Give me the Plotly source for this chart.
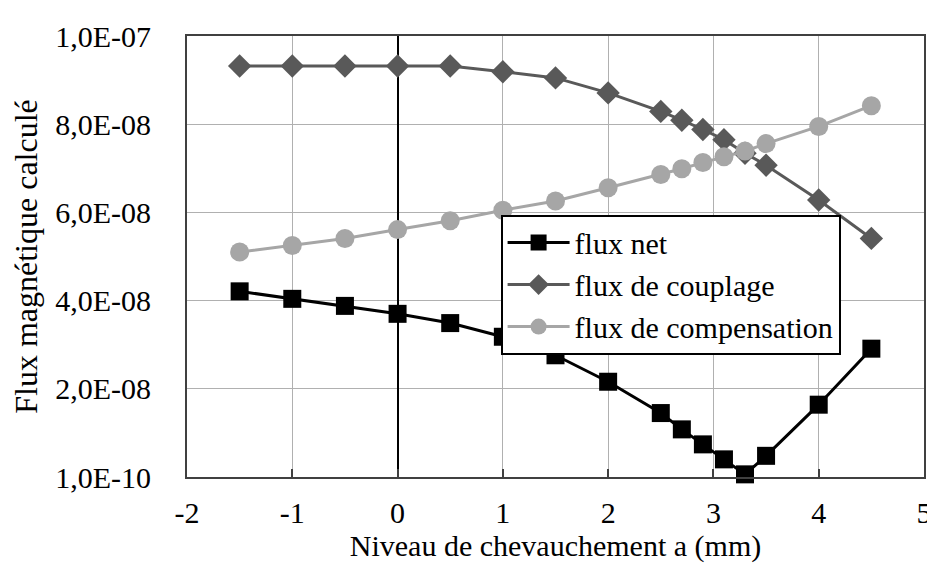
import plotly.graph_objects as go

# niveau de chevauchement a (mm)
niveau = [-1.5, -1, -0.5, 0, 0.5, 1, 1.5, 2, 2.5, 2.7, 2.9, 3.1, 3.3, 3.5, 4, 4.5]

flux_net = [4.22e-8, 4.05e-8, 3.89e-8, 3.71e-8, 3.50e-8, 3.19e-8, 2.77e-8, 2.17e-8,
            1.46e-8, 1.09e-8, 0.75e-8, 0.41e-8, 0.07e-8, 0.49e-8, 1.65e-8, 2.92e-8]
flux_couplage = [9.33e-8, 9.33e-8, 9.33e-8, 9.33e-8, 9.33e-8, 9.20e-8, 9.06e-8, 8.72e-8,
                 8.30e-8, 8.10e-8, 7.89e-8, 7.66e-8, 7.35e-8, 7.08e-8, 6.29e-8, 5.42e-8]
flux_compensation = [5.11e-8, 5.26e-8, 5.42e-8, 5.62e-8, 5.82e-8, 6.06e-8, 6.27e-8, 6.57e-8,
                     6.87e-8, 7.00e-8, 7.14e-8, 7.27e-8, 7.40e-8, 7.57e-8, 7.96e-8, 8.43e-8]

x_tick_vals = [-2, -1, 0, 1, 2, 3, 4, 5]
x_tick_text = ["-2", "-1", "0", "1", "2", "3", "4", "5"]
y_tick_vals = [1e-10, 2.01e-8, 4.01e-8, 6.01e-8, 8.01e-8, 1.001e-7]
y_tick_text = ["1,0E-10", "2,0E-08", "4,0E-08", "6,0E-08", "8,0E-08", "1,0E-07"]

FONT = "Liberation Serif, Times New Roman, serif"

fig = go.Figure()
fig.add_trace(go.Scatter(
    x=niveau, y=flux_net, name="flux net", mode="lines+markers",
    line=dict(color="#000000", width=3),
    marker=dict(symbol="square", size=18, color="#000000"),
    cliponaxis=False))
fig.add_trace(go.Scatter(
    x=niveau, y=flux_couplage, name="flux de couplage", mode="lines+markers",
    line=dict(color="#595959", width=3),
    marker=dict(symbol="diamond", size=18, color="#595959"),
    cliponaxis=False))
fig.add_trace(go.Scatter(
    x=niveau, y=flux_compensation, name="flux de compensation", mode="lines+markers",
    line=dict(color="#A6A6A6", width=3),
    marker=dict(symbol="circle", size=19, color="#A6A6A6"),
    cliponaxis=False))

fig.update_layout(
    width=935, height=568,
    margin=dict(l=179, r=11, t=27, b=99),
    paper_bgcolor="white", plot_bgcolor="white",
    font=dict(family=FONT, size=30, color="#000000"),
    showlegend=True,
    legend=dict(
        x=0.4255, y=0.595, xanchor="left", yanchor="top",
        bgcolor="white", bordercolor="#000000", borderwidth=2,
        font=dict(family=FONT, size=30), itemwidth=62,
        tracegroupgap=0),
)
fig.update_xaxes(
    range=[-2, 5], tickvals=x_tick_vals, ticktext=x_tick_text,
    showgrid=True, gridcolor="#B0B0B0", gridwidth=1.3,
    zeroline=True, zerolinecolor="#000000", zerolinewidth=1.5,
    showline=True, linecolor="#404040", linewidth=2, mirror=True,
    ticks="inside", ticklen=8, tickcolor="#404040", tickwidth=2,
    ticklabelstandoff=8,
    title=dict(text="Niveau de chevauchement a (mm)", font=dict(size=30), standoff=4),
)
fig.update_yaxes(
    range=[1e-10, 1.001e-7],
    tickvals=y_tick_vals, ticktext=y_tick_text,
    showgrid=True, gridcolor="#B0B0B0", gridwidth=1.3,
    zeroline=False,
    showline=True, linecolor="#404040", linewidth=2, mirror=True,
    ticks="", ticklabelstandoff=28,
    title=dict(text="Flux magnétique calculé", font=dict(size=32), standoff=14),
)

fig.write_html("out.html")
